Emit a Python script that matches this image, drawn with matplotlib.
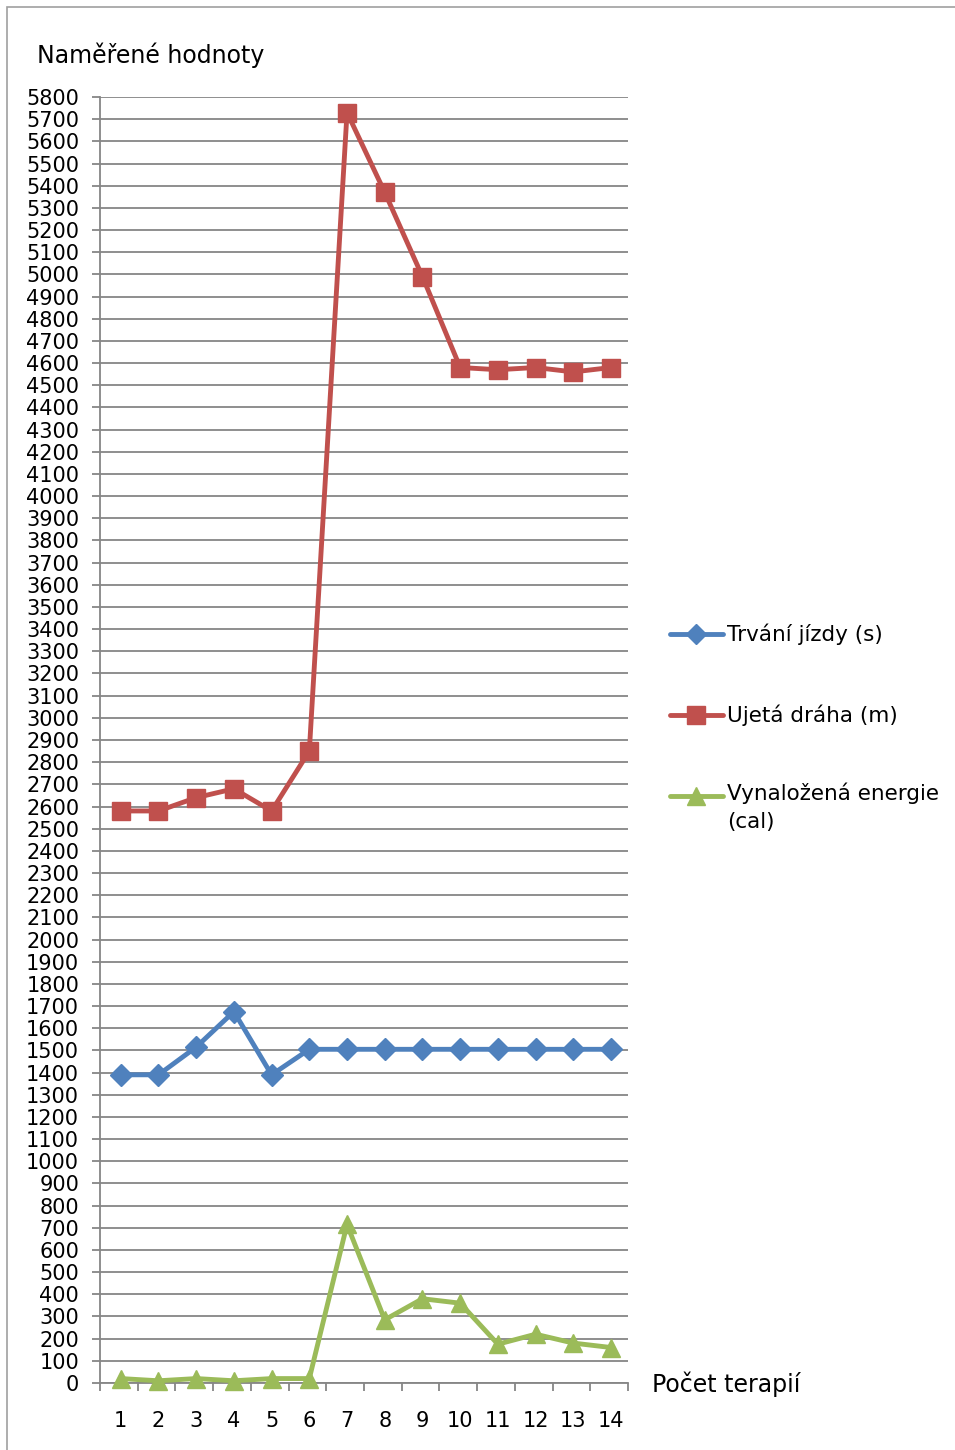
import numpy as np
import matplotlib
matplotlib.use("Agg")
import matplotlib.pyplot as plt
from matplotlib.lines import Line2D
from matplotlib.patches import Rectangle

plt.rcParams['font.family'] = ['DejaVu Sans']

# --- data
sessions = list(range(1, 15))
duration_s = [1390, 1390, 1515, 1675, 1390, 1505, 1505, 1505, 1505, 1505, 1505, 1505, 1505, 1505]
distance_m = [2580, 2580, 2640, 2680, 2580, 2850, 5730, 5370, 4990, 4580, 4570, 4580, 4560, 4580]
energy_cal = [20, 10, 20, 10, 20, 20, 715, 285, 380, 360, 175, 220, 180, 160]
series_labels = ['Trvání jízdy (s)', 'Ujetá dráha (m)', 'Vynaložená energie\n(cal)']

BLUE, RED, GREEN = '#4F81BD', '#C0504D', '#9BBB59'
GRID = '#868686'
FS = 15

W, H = 955, 1450
fig = plt.figure(figsize=(W/100, H/100), dpi=100)
ax = fig.add_axes([100/W, 1 - 1383/H, (628-100)/W, (1383-97)/H])

# outer frame of the chart object
fig.patches.append(Rectangle((7/W, -0.01), 1.2, 1 - 7/H + 0.01, transform=fig.transFigure,
                             fill=False, edgecolor='#A0A0A0', lw=1.2))

styles = [
    (duration_s, BLUE, 'D', 11),
    (distance_m, RED, 's', 13.5),
    (energy_cal, GREEN, '^', 13.5),
]
for vals, col, mk, ms in styles:
    ax.plot(sessions, vals, color=col, lw=3.5, marker=mk, ms=ms, mec=col, mfc=col,
            solid_joinstyle='round', clip_on=False, zorder=3)

ax.set_xlim(0.45, 14.45)
ax.set_ylim(0, 5800)
ax.set_yticks(np.arange(0, 5801, 100))
ax.set_yticklabels([str(v) for v in range(0, 5801, 100)], fontsize=FS)
ax.set_xticks(sessions)
ax.set_xticklabels([str(s) for s in sessions], fontsize=FS)
ax.set_xticks(np.arange(0.45, 15, 1), minor=True)
ax.tick_params(axis='x', which='major', length=0, pad=20)
ax.tick_params(axis='x', which='minor', length=6, width=1.3, color=GRID, direction='out')
ax.tick_params(axis='y', length=6, width=1.3, color=GRID, direction='out', pad=9)
ax.yaxis.grid(True, color=GRID, lw=1.3)
ax.set_axisbelow(True)
for side in ('top', 'right'):
    ax.spines[side].set_visible(False)
for side in ('left', 'bottom'):
    ax.spines[side].set_color(GRID)
    ax.spines[side].set_linewidth(1.3)

fig.text(37/W, 1 - 55/H, 'Naměřené hodnoty', fontsize=17, ha='left', va='center')
fig.text(652/W, 1 - 1384/H, 'Počet terapií', fontsize=17, ha='left', va='center')

# legend drawn by hand (Excel style, label wraps to a second line)
leg_y = [634, 715, 796]
for (vals, col, mk, ms), lab, y in zip(styles, series_labels, leg_y):
    yf = 1 - y/H
    fig.add_artist(Line2D([670/W, 723/W], [yf, yf], transform=fig.transFigure,
                          color=col, lw=3.5, solid_capstyle='round'))
    fig.add_artist(Line2D([696/W], [yf], transform=fig.transFigure, marker=mk,
                          ms=ms * 0.95, color=col, mec=col))
    fig.text(727/W, yf, lab, fontsize=FS + 0.5, ha='left', va='top' if '\n' in lab else 'center',
             linespacing=1.55)
# nudge the wrapped label so its first line sits on the handle
fig.texts[-1].set_y(1 - (796 - 14)/H)

fig.savefig('out.png', dpi=100)
